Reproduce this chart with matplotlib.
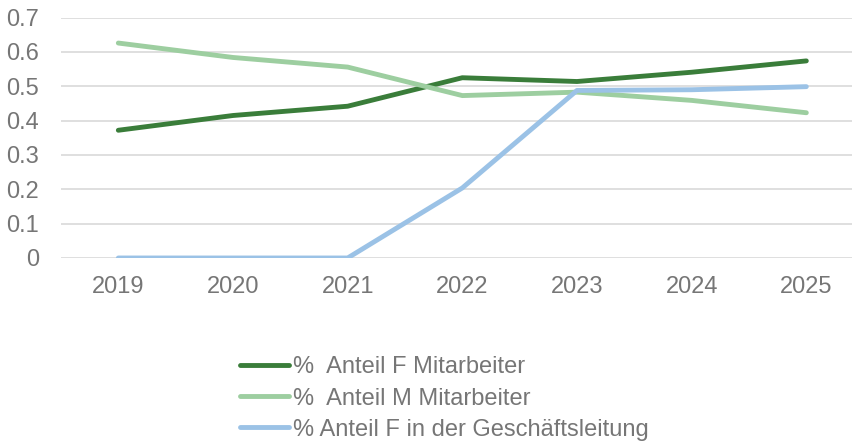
import matplotlib
matplotlib.use('Agg')
import matplotlib.pyplot as plt

# Anteile nach Jahr
years = ['2019', '2020', '2021', '2022', '2023', '2024', '2025']
f_mitarbeiter = [0.372, 0.415, 0.442, 0.525, 0.514, 0.541, 0.574]
m_mitarbeiter = [0.626, 0.584, 0.556, 0.473, 0.483, 0.459, 0.423]
f_gl = [0.0, 0.0, 0.0, 0.204, 0.488, 0.490, 0.499]
labels = ['%  Anteil F Mitarbeiter', '%  Anteil M Mitarbeiter',
          '% Anteil F in der Geschäftsleitung']
yticks = [0, 0.1, 0.2, 0.3, 0.4, 0.5, 0.6, 0.7]
ytick_labels = ['0', '0.1', '0.2', '0.3', '0.4', '0.5', '0.6', '0.7']

plt.rcParams['font.family'] = ['Liberation Sans', 'DejaVu Sans']
grey = '#767676'

fig = plt.figure(figsize=(8.53, 4.41), dpi=100)
ax = fig.add_axes([0.0715, 0.415, 0.941, 0.545])

x = range(len(years))
ax.plot(x, f_mitarbeiter, color='#3a7d3a', lw=3.5, solid_capstyle='round', label=labels[0])
ax.plot(x, m_mitarbeiter, color='#9dcea0', lw=3.5, solid_capstyle='round', label=labels[1])
ax.plot(x, f_gl, color='#9bc2e6', lw=3.5, solid_capstyle='round', label=labels[2])

ax.set_xlim(-0.5, 6.5)
ax.set_ylim(0, 0.7)
ax.set_xticks(list(x))
ax.set_xticklabels(years)
ax.set_yticks(yticks)
ax.set_yticklabels(ytick_labels)
ax.tick_params(axis='both', length=0, labelsize=17, labelcolor=grey)
ax.tick_params(axis='y', pad=16)
ax.tick_params(axis='x', pad=13)
ax.grid(axis='y', color='#d9d9d9', lw=1.2)
ax.set_axisbelow(True)
for s in ax.spines.values():
    s.set_visible(False)

leg = fig.legend(loc='upper left', bbox_to_anchor=(0.281, 0.192), frameon=False,
                 fontsize=17, labelcolor=grey, handlelength=2.1, handletextpad=0.15,
                 labelspacing=0.39, borderaxespad=0, borderpad=0)

fig.savefig('out.png', dpi=100)
